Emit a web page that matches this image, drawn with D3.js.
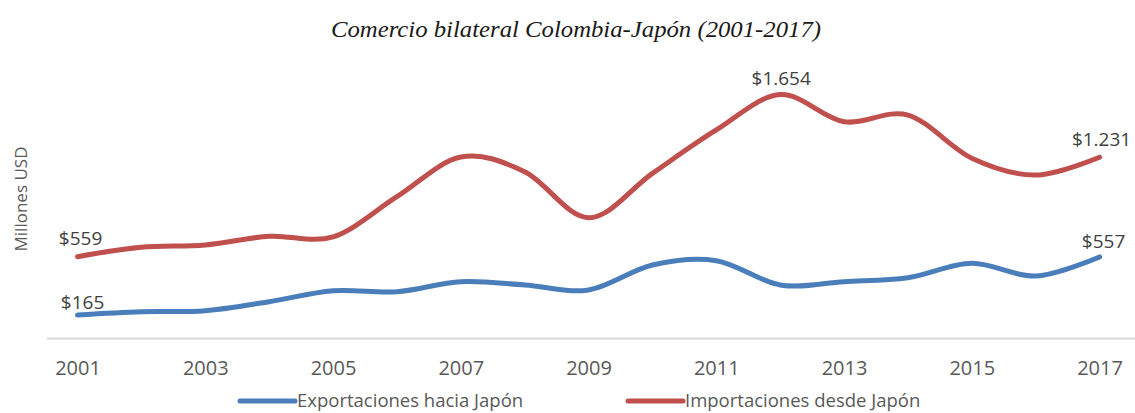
<!DOCTYPE html>
<html>
<head>
<meta charset="utf-8">
<script src="https://cdn.jsdelivr.net/npm/d3@7"></script>
<style>
  body { margin: 0; background: #fff; }
  text { font-family: "Open Sans", sans-serif; }
</style>
</head>
<body>
<script>
var years = [2001, 2002, 2003, 2004, 2005, 2006, 2007, 2008, 2009,
             2010, 2011, 2012, 2013, 2014, 2015, 2016, 2017];
var tickYears = [2001, 2003, 2005, 2007, 2009, 2011, 2013, 2015, 2017];
var exportaciones = [165, 187, 194, 255, 329, 322, 390, 368, 334,
                     503, 532, 368, 390, 417, 514, 428, 557];
var importaciones = [559, 622, 638, 697, 693, 964, 1232, 1133, 822,
                     1122, 1415, 1654, 1471, 1516, 1224, 1111, 1231];
// labelled points: [series, year]
var labelled = [["exp", 2001], ["exp", 2017], ["imp", 2001], ["imp", 2012], ["imp", 2017]];

var W = 1135, H = 413;

var x = d3.scalePoint().domain(years).range([45.6, 1131.5]).padding(0.5);
var y = d3.scaleLinear().domain([0, 1800]).range([339.4, 73]);

var svg = d3.select("body").append("svg")
    .attr("width", W)
    .attr("height", H);

// title
svg.append("text")
    .attr("x", 576)
    .attr("y", 37)
    .attr("text-anchor", "middle")
    .attr("textLength", 490)
    .attr("lengthAdjust", "spacingAndGlyphs")
    .style("font-family", "'Liberation Serif', serif")
    .style("font-style", "italic")
    .style("font-size", "24px")
    .attr("fill", "#1a1a1a")
    .text("Comercio bilateral Colombia-Japón (2001-2017)");

// y label
svg.append("text")
    .attr("transform", "translate(27,199) rotate(-90)")
    .attr("text-anchor", "middle")
    .style("font-size", "17px")
    .attr("fill", "#595959")
    .text("Millones USD");

// baseline
svg.append("line")
    .attr("x1", 47).attr("x2", W)
    .attr("y1", y(0) - 1).attr("y2", y(0) - 1)
    .attr("stroke", "#d9d9d9")
    .attr("stroke-width", 2);

// x axis
var xAxis = svg.append("g")
    .attr("transform", "translate(0," + y(0) + ")")
    .call(d3.axisBottom(x).tickValues(tickYears).tickSize(0).tickPadding(21));
xAxis.select(".domain").remove();
xAxis.selectAll("text")
    .style("font-family", "'Open Sans', sans-serif")
    .style("font-size", "20px")
    .attr("fill", "#595959");

var line = d3.line()
    .curve(d3.curveCatmullRom.alpha(0))
    .x(function(d, i) { return x(years[i]); })
    .y(function(d) { return y(d); });

svg.append("path")
    .datum(importaciones)
    .attr("fill", "none")
    .attr("stroke", "#C0504D")
    .attr("stroke-width", 5)
    .attr("stroke-linecap", "round")
    .attr("d", line);

svg.append("path")
    .datum(exportaciones)
    .attr("fill", "none")
    .attr("stroke", "#4A7EBB")
    .attr("stroke-width", 5)
    .attr("stroke-linecap", "round")
    .attr("d", line);

// data labels
var fmt = function(v) { return "$" + d3.format(",")(v).replace(/,/g, "."); };
var offs = { "exp2001": [5, -6], "exp2017": [4, -9], "imp2001": [3, -12], "imp2012": [1, -10], "imp2017": [2, -11] };
svg.selectAll(".lbl")
    .data(labelled)
  .enter().append("text")
    .attr("class", "lbl")
    .attr("text-anchor", "middle")
    .style("font-size", "19px")
    .attr("fill", "#404040")
    .attr("x", function(d) { return x(d[1]) + offs[d[0] + d[1]][0]; })
    .attr("y", function(d) {
      var arr = d[0] === "exp" ? exportaciones : importaciones;
      return y(arr[years.indexOf(d[1])]) + offs[d[0] + d[1]][1];
    })
    .text(function(d) {
      var arr = d[0] === "exp" ? exportaciones : importaciones;
      return fmt(arr[years.indexOf(d[1])]);
    });

// legend
var legend = [["Exportaciones hacia Japón", "#4A7EBB", 240], ["Importaciones desde Japón", "#C0504D", 628]];
var lg = svg.selectAll(".leg").data(legend).enter().append("g")
    .attr("transform", function(d) { return "translate(" + d[2] + ",401)"; });
lg.append("line")
    .attr("x1", 0).attr("x2", 55)
    .attr("stroke", function(d) { return d[1]; })
    .attr("stroke-width", 5)
    .attr("stroke-linecap", "round");
lg.append("text")
    .attr("x", 57)
    .attr("dy", "0.35em")
    .style("font-size", "18.5px")
    .attr("fill", "#595959")
    .text(function(d) { return d[0]; });
</script>
</body>
</html>
